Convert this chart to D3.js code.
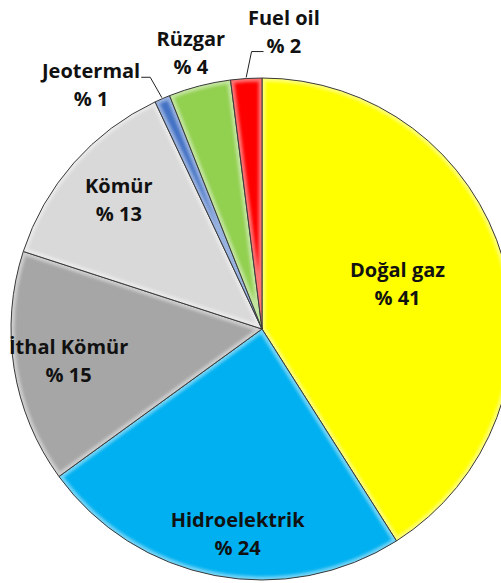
<!DOCTYPE html>
<html lang="tr">
  <head>
    <meta charset="UTF-8" />
    <title>Elektrik üretimi</title>
    <script src="https://cdn.jsdelivr.net/npm/d3@7/dist/d3.min.js"></script>
    <style>
      body { margin: 0; background: #fff; }
      .label { font-family: "Open Sans", sans-serif; font-weight: bold; font-size: 20px; fill: #111; }
      .slice { stroke: #3a3a3a; stroke-width: 1; }
      .leader { fill: none; stroke: #222; stroke-width: 1; }
    </style>
  </head>
  <body>
    <script>
      // chart data
      var sources = ["Doğal gaz", "Hidroelektrik", "İthal Kömür", "Kömür", "Jeotermal", "Rüzgar", "Fuel oil"];
      var shares = [41, 24, 15, 13, 1, 4, 2];
      var colors = ["#ffff00", "#00b0f0", "#a6a6a6", "#d9d9d9", "#4472c4", "#92d050", "#ff0000"];

      // label placement: radius as fraction of R, angle nudge in degrees
      var labelPlace = [
        { f: 0.57, da: -2.5 },
        { f: 0.82, da: -4 },
        { f: 0.78, da: 0 },
        { f: 0.77, da: 0.8 },
        { f: 1.19, da: -11.5 },
        { f: 1.14, da: 0 },
        { f: 1.19, da: 7.8 }
      ];
      var outside = [false, false, false, false, true, true, true];

      var w = 501, h = 583;
      var cx = 262, cy = 329, R = 251;

      var svg = d3.select("body").append("svg")
        .attr("width", w)
        .attr("height", h);

      var defs = svg.append("defs");
      defs.append("filter")
        .attr("id", "soft")
        .append("feGaussianBlur")
        .attr("stdDeviation", 1.6);

      var data = sources.map(function(s, i) { return { name: s, value: shares[i], color: colors[i], i: i }; });

      var pie = d3.pie()
        .sort(null)
        .value(function(d) { return d.value; });

      var arc = d3.arc().innerRadius(0).outerRadius(R);

      var arcs = pie(data);

      var g = svg.append("g")
        .attr("transform", "translate(" + cx + "," + cy + ")");

      // clip paths for bevel highlight
      arcs.forEach(function(a, i) {
        defs.append("clipPath").attr("id", "clip" + i)
          .append("path").attr("d", arc(a));
      });

      var slices = g.selectAll("g.s")
        .data(arcs)
        .enter().append("g")
        .attr("class", "s");

      slices.append("path")
        .attr("d", arc)
        .attr("fill", function(d) { return d.data.color; });

      // soft light edge inside each slice
      slices.append("path")
        .attr("d", arc)
        .attr("clip-path", function(d, i) { return "url(#clip" + i + ")"; })
        .attr("fill", "none")
        .attr("stroke", "#fff")
        .attr("stroke-opacity", 0.45)
        .attr("stroke-width", 7)
        .attr("filter", "url(#soft)");

      slices.append("path")
        .attr("class", "slice")
        .attr("d", arc)
        .attr("fill", "none");

      // labels
      function labelPos(d, i) {
        var p = labelPlace[i];
        var a = (d.startAngle + d.endAngle) / 2 + p.da * Math.PI / 180;
        var r = p.f * R;
        return [r * Math.sin(a), -r * Math.cos(a)];
      }

      var labels = g.selectAll("text.label")
        .data(arcs)
        .enter().append("text")
        .attr("class", "label")
        .attr("text-anchor", "middle")
        .attr("transform", function(d, i) {
          var p = labelPos(d, i);
          return "translate(" + p[0] + "," + p[1] + ")";
        });

      labels.append("tspan")
        .attr("x", 0)
        .attr("y", -6)
        .text(function(d) { return d.data.name; });

      labels.append("tspan")
        .attr("x", 0)
        .attr("y", 22)
        .text(function(d) { return "% " + d.data.value; });

      // leader lines for the small slices that need them
      labels.each(function(d, i) {
        if (!outside[i] || d.data.name === "Rüzgar") return;
        var p = labelPos(d, i);
        var mid = (d.startAngle + d.endAngle) / 2;
        var edge = [(R + 1) * Math.sin(mid), -(R + 1) * Math.cos(mid)];
        var t = d3.select(this).selectAll("tspan").nodes();
        var pts;
        if (edge[0] < p[0]) {
          // line leaves the left side of the value line
          var b2 = t[1].getBBox();
          var y2 = p[1] + b2.y + b2.height * 0.72;
          var x2 = p[0] + b2.x - 3;
          pts = [[x2, y2], [x2 - 12, y2], edge];
        } else {
          // line leaves the right side of the name line
          var b1 = t[0].getBBox();
          var y1 = p[1] + b1.y + b1.height * 0.75;
          var x1 = p[0] + b1.x + b1.width + 1;
          pts = [[x1, y1], [x1 + 9, y1], edge];
        }
        g.append("path")
          .attr("class", "leader")
          .attr("d", d3.line()(pts));
      });
    </script>
  </body>
</html>
